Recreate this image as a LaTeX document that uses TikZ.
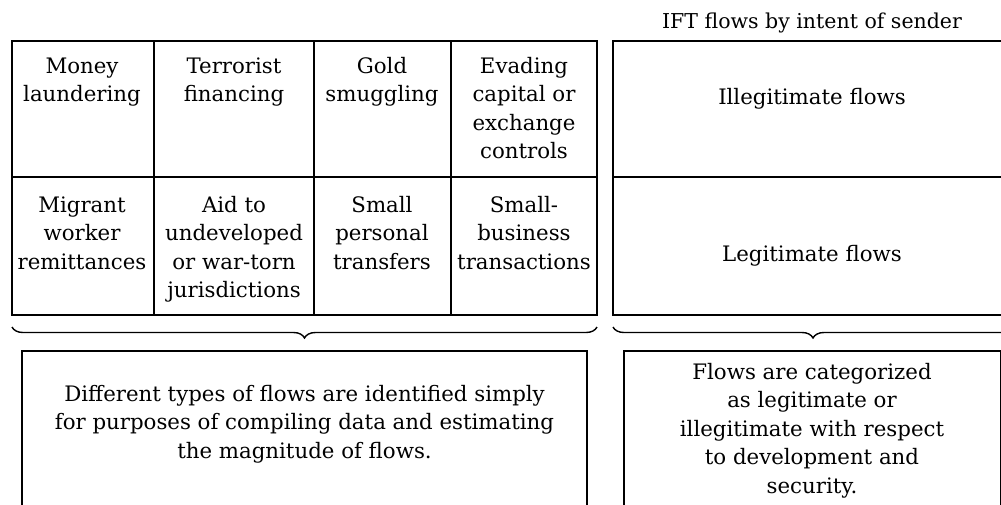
\documentclass[tikz,border=0pt]{standalone}
\usepackage{fontspec}
\setmainfont{DejaVu Serif}
\usetikzlibrary{decorations.pathreplacing}
\newcommand{\bodyfont}{\fontsize{21.3}{28.5}\selectfont}
\newcommand{\titlefont}{\fontsize{20.5}{24}\selectfont}

\begin{document}
\begin{tikzpicture}[x=1pt, y=-1pt,
  cell/.style={inner sep=0pt, align=center, anchor=north, font=\bodyfont},
  label/.style={inner sep=0pt, anchor=base, font=\bodyfont},
  frame/.style={line width=1.8pt},
  rule/.style={line width=1.1pt},
  box/.style={line width=1.4pt},
  bracket/.style={line width=1.4pt, decorate, decoration={brace, mirror, amplitude=11pt}}]
\useasboundingbox (0,0) rectangle (1001,504);

% flow types table
\draw[frame] (12,41) rectangle (597,315);
\draw[frame] (12,177) -- (597,177);
\foreach \x in {154, 314, 451}
  \draw[rule] (\x,41) -- (\x,315);

\node[cell] (money) at (82,53) {\strut Money\\laundering};
\node[cell] (terror) at (234,53) {\strut Terrorist\\financing};
\node[cell] (gold) at (382,53) {\strut Gold\\smuggling};
\node[cell] (evade) at (524,53) {\strut Evading\\capital or\\exchange\\controls};
\node[cell] (migrant) at (82,192) {\strut Migrant\\worker\\remittances};
\node[cell] (aid) at (234,192) {\strut Aid to\\undeveloped\\or war-torn\\jurisdictions};
\node[cell] (personal) at (382,192) {\strut Small\\personal\\transfers};
\node[cell] (business) at (524,192) {\strut Small-\\business\\transactions};

% intent table
\node[label, font=\titlefont] (intent) at (812,28) {IFT flows by intent of sender};
\draw[frame] (1013,41) -- (613,41) -- (613,315) -- (1013,315);
\draw[frame] (613,177) -- (1013,177);
\node[label] (illegit) at (812,104) {Illegitimate flows};
\node[label] (legit) at (812,261) {Legitimate flows};

% braces
\coordinate (typesL) at (12,327);
\coordinate (typesR) at (597,327);
\coordinate (intentL) at (613,327);
\coordinate (intentR) at (1013,327);
\draw[bracket] (typesL) -- (typesR);
\draw[bracket] (intentL) -- (intentR);

% notes
\draw[box] (22,351) rectangle (587,520);
\draw[box] (624,351) rectangle (1000.5,520);
\node[cell] (purpose) at (304.5,381) {\strut Different types of flows are identified simply\\for purposes of compiling data and estimating\\the magnitude of flows.};
\node[cell] (category) at (812,359) {\strut Flows are categorized\\as legitimate or\\illegitimate with respect\\to development and\\security.};
\end{tikzpicture}
\end{document}
